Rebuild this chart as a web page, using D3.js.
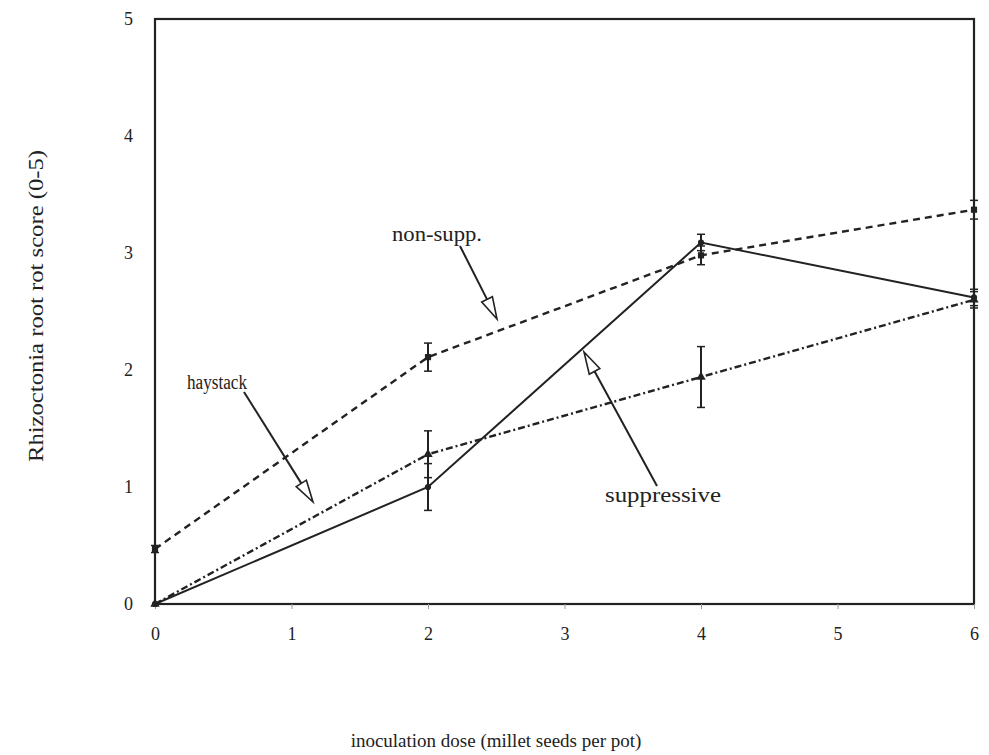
<!DOCTYPE html>
<html>
<head>
<meta charset="utf-8">
<script src="https://cdn.jsdelivr.net/npm/d3@7"></script>
<style>
  html, body { margin: 0; padding: 0; background: #fff; }
  svg { display: block; }
  text { font-family: "Liberation Serif", "DejaVu Serif", serif; fill: #222; }
</style>
</head>
<body>
<svg id="chart" width="989" height="755"></svg>
<script>
// Inoculation dose (millet seeds per pot)
const doses = [0, 2, 4, 6];

// Mean root rot scores for each soil
const nonSupp     = [0.47, 2.11, 2.98, 3.37];
const nonSuppErr  = [0.03, 0.12, 0.08, 0.08];
const suppressive = [0.0, 1.0, 3.09, 2.62];
const suppErr     = [0.0, 0.2, 0.07, 0.07];
const haystack    = [0.0, 1.28, 1.94, 2.6];
const hayErr      = [0.0, 0.2, 0.26, 0.07];

const xTicks = [0, 1, 2, 3, 4, 5, 6];
const yTicks = [0, 1, 2, 3, 4, 5];

const svg = d3.select("#chart");
const margin = { left: 155, top: 19, right: 974, bottom: 604 };

const x = d3.scaleLinear().domain([0, 6]).range([margin.left, margin.right]);
const y = d3.scaleLinear().domain([0, 5]).range([margin.bottom, margin.top]);

const ink = "#222";

// Frame
svg.append("rect")
  .attr("x", margin.left).attr("y", margin.top)
  .attr("width", margin.right - margin.left)
  .attr("height", margin.bottom - margin.top)
  .attr("fill", "none").attr("stroke", ink).attr("stroke-width", 2.2);

// Axes (ticks only, frame provides the lines)
const xAxis = svg.append("g")
  .attr("transform", `translate(0,${margin.bottom})`)
  .call(d3.axisBottom(x).tickValues(xTicks).tickSize(5).tickPadding(18)
    .tickFormat(d3.format("d")));
xAxis.select(".domain").remove();
xAxis.selectAll("line").attr("stroke", "#999");
xAxis.selectAll("text").attr("font-size", 18).attr("fill", "#333")
  .style("font-family", "'Liberation Serif', serif");

const yAxis = svg.append("g")
  .attr("transform", `translate(${margin.left},0)`)
  .call(d3.axisLeft(y).tickValues(yTicks).tickSize(0).tickPadding(22)
    .tickFormat(d3.format("d")));
yAxis.select(".domain").remove();
yAxis.selectAll("text").attr("font-size", 18).attr("fill", "#333")
  .style("font-family", "'Liberation Serif', serif");

// Axis titles
svg.append("text")
  .attr("transform", `translate(38,306) rotate(-90)`)
  .attr("text-anchor", "middle").attr("dominant-baseline", "middle")
  .attr("font-size", 21)
  .attr("textLength", 312).attr("lengthAdjust", "spacingAndGlyphs")
  .text("Rhizoctonia root rot score (0-5)");

svg.append("text")
  .attr("x", 496).attr("y", 743)
  .attr("text-anchor", "middle").attr("dominant-baseline", "middle")
  .attr("font-size", 19)
  .text("inoculation dose (millet seeds per pot)");

const series = [
  { name: "non-supp.", values: nonSupp, err: nonSuppErr, dash: "7,5", marker: "square" },
  { name: "suppressive", values: suppressive, err: suppErr, dash: null, marker: "circle" },
  { name: "haystack", values: haystack, err: hayErr, dash: "7,3,2,3", marker: "triangle" }
];

const line = d3.line().x((d, i) => x(doses[i])).y(d => y(d));

series.forEach(s => {
  const g = svg.append("g");
  g.append("path")
    .datum(s.values)
    .attr("d", line)
    .attr("fill", "none")
    .attr("stroke", ink)
    .attr("stroke-width", s.dash ? 2.4 : 2)
    .attr("stroke-dasharray", s.dash);

  // Error bars
  s.values.forEach((v, i) => {
    const e = s.err[i];
    if (e <= 0) return;
    const cx = x(doses[i]);
    g.append("line")
      .attr("x1", cx).attr("x2", cx)
      .attr("y1", y(v - e)).attr("y2", y(v + e))
      .attr("stroke", ink).attr("stroke-width", 2);
    [v - e, v + e].forEach(t => {
      g.append("line")
        .attr("x1", cx - 4).attr("x2", cx + 4)
        .attr("y1", y(t)).attr("y2", y(t))
        .attr("stroke", ink).attr("stroke-width", 1.5);
    });
  });

  // Markers
  const symType = s.marker === "square" ? d3.symbolSquare
    : s.marker === "circle" ? d3.symbolCircle : d3.symbolTriangle;
  g.selectAll("path.m")
    .data(s.values)
    .join("path")
    .attr("class", "m")
    .attr("transform", (d, i) => `translate(${x(doses[i])},${y(d)})`)
    .attr("d", d3.symbol().type(symType).size(s.marker === "circle" ? 30 : 38))
    .attr("fill", ink);
});

// Callout labels with open-headed arrows
const callouts = [
  { label: "non-supp.", tx: 437, ty: 236, w: 90, from: [460, 246], to: [497, 319] },
  { label: "haystack", tx: 217, ty: 384, w: 60, from: [244, 392], to: [313, 502] },
  { label: "suppressive", tx: 663, ty: 497, w: 116, from: [657, 486], to: [584, 352] }
];

callouts.forEach(c => {
  svg.append("text")
    .attr("x", c.tx).attr("y", c.ty)
    .attr("text-anchor", "middle").attr("dominant-baseline", "middle")
    .attr("font-size", 20)
    .attr("textLength", c.w).attr("lengthAdjust", "spacingAndGlyphs")
    .text(c.label);

  const [x1, y1] = c.from, [x2, y2] = c.to;
  const ang = Math.atan2(y2 - y1, x2 - x1);
  const len = 22, half = 6;
  const bx = x2 - len * Math.cos(ang), by = y2 - len * Math.sin(ang);
  svg.append("line")
    .attr("x1", x1).attr("y1", y1).attr("x2", bx).attr("y2", by)
    .attr("stroke", ink).attr("stroke-width", 2);
  const px = -Math.sin(ang) * half, py = Math.cos(ang) * half;
  svg.append("path")
    .attr("d", `M${x2},${y2}L${bx + px},${by + py}L${bx - px},${by - py}Z`)
    .attr("fill", "#fff").attr("stroke", ink).attr("stroke-width", 1.6);
});
</script>
</body>
</html>
